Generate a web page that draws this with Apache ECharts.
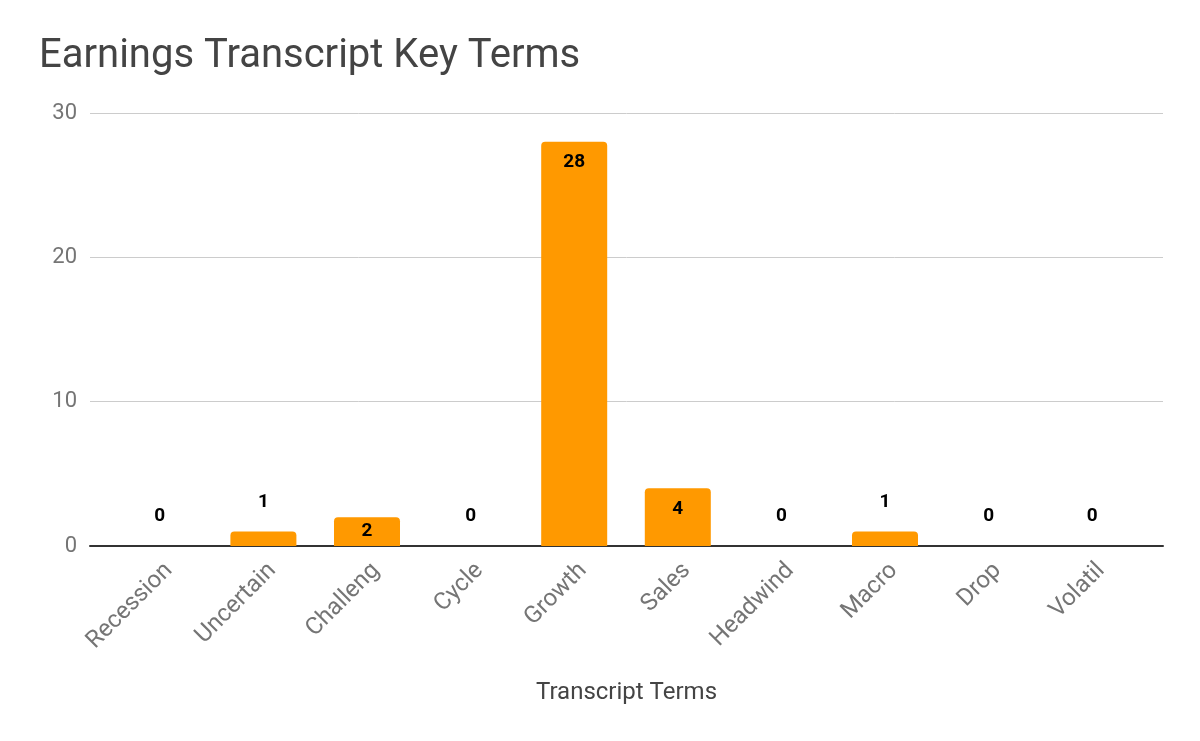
<!DOCTYPE html>
<html>
<head>
<meta charset="utf-8">
<script src="https://cdn.jsdelivr.net/npm/echarts@6/dist/echarts.min.js"></script>
<style>
html,body{margin:0;padding:0;background:#fff;}
#chart{width:1200px;height:741px;}
</style>
</head>
<body>
<div id="chart"></div>
<script>
const categories = ['Recession','Uncertain','Challeng','Cycle','Growth','Sales','Headwind','Macro','Drop','Volatil'];
const counts = [0, 1, 2, 0, 28, 4, 0, 1, 0, 0];
const yTicks = { min: 0, max: 30, interval: 10 };

const chart = echarts.init(document.getElementById('chart'));
const FONT = 'Roboto, "Noto Sans", sans-serif';

function labelFor(v) {
  if (v >= 3) return { position: 'insideTop', distance: 11 };
  if (v >= 2) return { position: 'inside' };
  return { position: 'top', distance: 20 };
}
const barData = counts.map(v => ({ value: v, label: labelFor(v) }));

chart.setOption({
  backgroundColor: '#ffffff',
  title: {
    text: 'Earnings Transcript Key Terms',
    left: 34, top: 32,
    textStyle: { fontFamily: FONT, fontSize: 40, fontWeight: 'normal', color: '#444444' }
  },
  grid: [
    { left: 90, right: 37, top: 113, bottom: 195 },
    { left: 108, right: 56, top: 113, bottom: 195 },
    { left: 117, right: 47, top: 113, bottom: 195 }
  ],
  xAxis: [
    {
      gridIndex: 0, type: 'value', min: 0, max: 1,
      axisLine: { show: true, onZero: false, lineStyle: { color: '#333333', width: 2 } },
      axisTick: { show: false }, axisLabel: { show: false }, splitLine: { show: false },
      name: 'Transcript Terms', nameLocation: 'middle', nameGap: 135,
      nameTextStyle: { fontFamily: FONT, fontSize: 24, color: '#444444' }
    },
    {
      gridIndex: 1, type: 'category', data: categories,
      axisLine: { show: false }, axisTick: { show: false }, axisLabel: { show: false }
    },
    {
      gridIndex: 2, type: 'category', data: categories,
      axisLine: { show: false }, axisTick: { show: false },
      axisLabel: { rotate: 45, margin: 21, fontFamily: FONT, fontSize: 24, color: '#757575', interval: 0 }
    }
  ],
  yAxis: [
    {
      gridIndex: 0, type: 'value', min: yTicks.min, max: yTicks.max, interval: yTicks.interval,
      axisLine: { show: false }, axisTick: { show: false },
      axisLabel: { margin: 13, fontFamily: FONT, fontSize: 22, color: '#757575' },
      splitLine: { lineStyle: { color: '#cccccc', width: 1 } }
    },
    {
      gridIndex: 1, type: 'value', min: yTicks.min, max: yTicks.max, interval: yTicks.interval,
      show: false, splitLine: { show: false }
    },
    {
      gridIndex: 2, type: 'value', min: yTicks.min, max: yTicks.max, interval: yTicks.interval,
      show: false, splitLine: { show: false }
    }
  ],
  series: [{
    type: 'bar',
    xAxisIndex: 1, yAxisIndex: 1,
    data: barData,
    barWidth: 66,
    itemStyle: { color: '#ff9900', borderRadius: [4, 4, 0, 0] },
    label: {
      show: true, fontFamily: FONT, fontSize: 19, fontWeight: 'bold', color: '#000000'
    },
    z: 1
  }]
});
</script>
</body>
</html>
